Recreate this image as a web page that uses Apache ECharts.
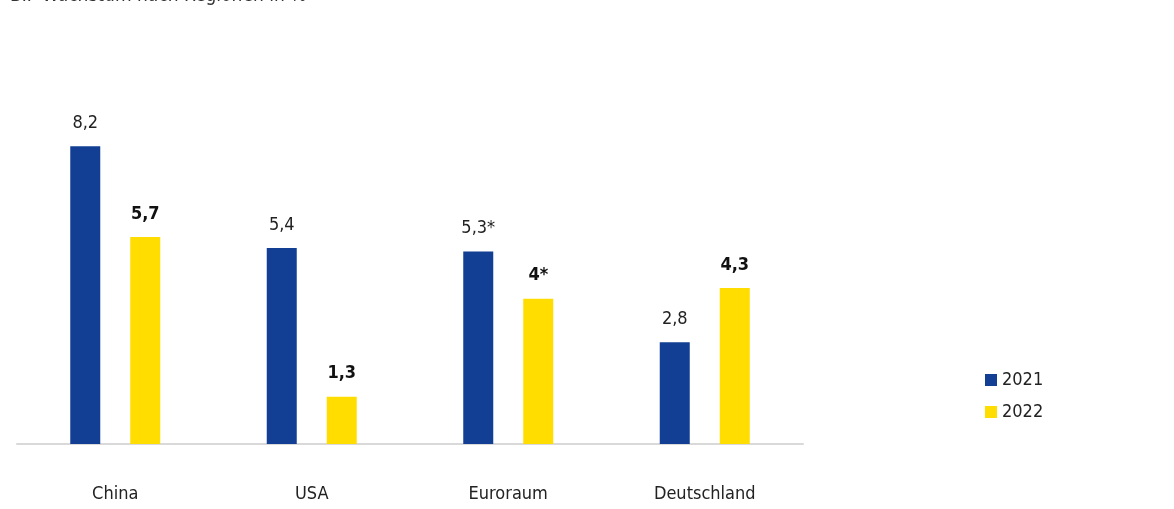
<!DOCTYPE html>
<html><head><meta charset="utf-8">
<script src="https://cdn.jsdelivr.net/npm/echarts@6/dist/echarts.min.js"></script>
<style>html,body{margin:0;padding:0;background:#fff}#c{width:1174px;height:509px}</style>
</head><body><div id="c"></div>
<script>
const categories = ['China', 'USA', 'Euroraum', 'Deutschland'];
const values2021 = [8.2, 5.4, 5.3, 2.8];
const values2022 = [5.7, 1.3, 4.0, 4.3];
const labels2021 = ['8,2', '5,4', '5,3*', '2,8'];
const labels2022 = ['5,7', '1,3', '4*', '4,3'];
const seriesNames = ['2021', '2022'];
const FONT = '"Liberation Sans Narrow", "DejaVu Sans Condensed", "Noto Sans", sans-serif';
const chart = echarts.init(document.getElementById('c'));
chart.setOption({
  animation: false,
  textStyle: { fontFamily: FONT },
  title: { text: 'BIP-Wachstum nach Regionen in %', left: 5, top: -18,
    textStyle: { fontFamily: FONT, fontSize: 19, fontWeight: 'normal', color: '#333' } },
  legend: { orient: 'vertical', left: 980, top: 366, itemWidth: 12, itemHeight: 12, itemGap: 14,
    icon: 'rect', textStyle: { fontFamily: FONT, fontSize: 18, color: '#222' }, data: seriesNames },
  grid: { left: 17, right: 371, top: 81, bottom: 65 },
  xAxis: { type: 'category', data: categories,
    axisLine: { lineStyle: { color: '#d9d9d9', width: 2 } }, axisTick: { show: false },
    axisLabel: { margin: 41, fontFamily: FONT, fontSize: 18, color: '#222' } },
  yAxis: { type: 'value', min: 0, max: 10, show: false, splitLine: { show: false } },
  series: [
    { name: seriesNames[0], type: 'bar', data: values2021, barWidth: 30, barGap: '100%',
      itemStyle: { color: '#123f93' },
      label: { show: true, position: 'top', distance: 14, fontFamily: FONT, fontSize: 18, color: '#222',
        formatter: p => labels2021[p.dataIndex] } },
    { name: seriesNames[1], type: 'bar', data: values2022, barWidth: 30,
      itemStyle: { color: '#ffdd00' },
      label: { show: true, position: 'top', distance: 14, fontFamily: FONT, fontSize: 18, fontWeight: 'bold', color: '#111',
        formatter: p => labels2022[p.dataIndex] } }
  ]
});
</script></body></html>
